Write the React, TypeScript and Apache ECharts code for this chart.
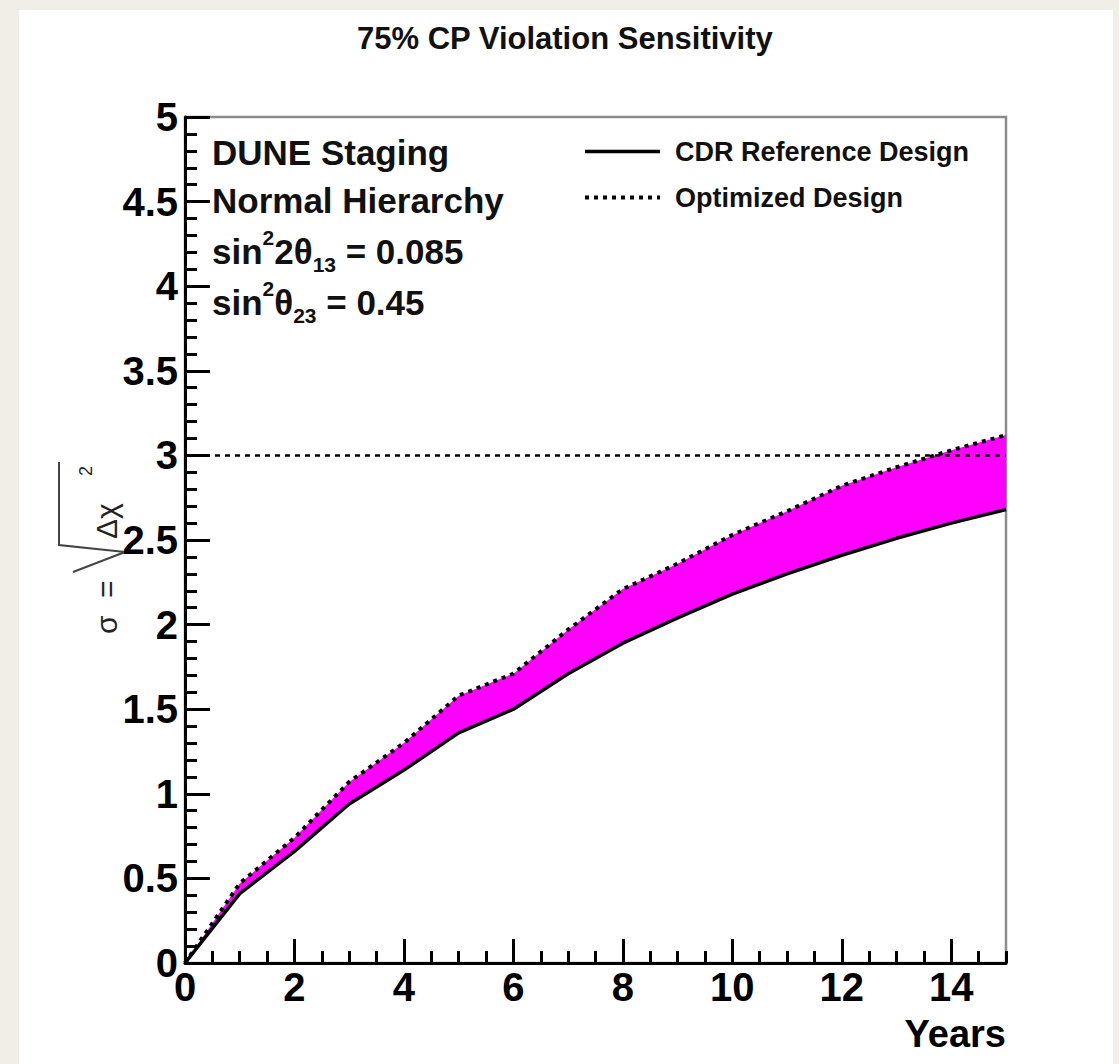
import React, { useEffect, useRef } from 'react';
import * as echarts from 'echarts';

// ---- data ----
const years = [0, 1, 2, 3, 4, 5, 6, 7, 8, 9, 10, 11, 12, 13, 14, 15];
const cdrSigma = [0, 0.41, 0.66, 0.94, 1.14, 1.36, 1.5, 1.71, 1.89, 2.04, 2.18, 2.3, 2.41, 2.51, 2.6, 2.68];
const optimizedSigma = [0, 0.47, 0.74, 1.07, 1.3, 1.58, 1.71, 1.97, 2.21, 2.36, 2.53, 2.67, 2.82, 2.93, 3.03, 3.12];
const threshold = 3;
const seriesNames = ['CDR Reference Design', 'Optimized Design'];
const chartTitle = '75% CP Violation Sensitivity';
const xAxisName = 'Years';
const xMajorTicks = [0, 2, 4, 6, 8, 10, 12, 14];
const xMinorTicks = [0.5, 1, 1.5, 2.5, 3, 3.5, 4.5, 5, 5.5, 6.5, 7, 7.5, 8.5, 9, 9.5, 10.5, 11, 11.5, 12.5, 13, 13.5, 14.5, 15];
const infoLines = ['DUNE Staging', 'Normal Hierarchy'];

const FONT = '"Liberation Sans", Arial, Helvetica, sans-serif';
const INK = '#111';

function buildOption() {
  const cdrPts = years.map((x, i) => [x, cdrSigma[i]]);
  const optPts = years.map((x, i) => [x, optimizedSigma[i]]);
  const tickLine = { color: '#000', width: 3 };

  return {
    animation: false,
    backgroundColor: 'transparent',
    textStyle: { fontFamily: FONT },
    title: {
      text: chartTitle,
      left: 352,
      top: 18,
      textStyle: { fontSize: 31, fontWeight: 'bold', color: INK, fontFamily: FONT },
    },
    grid: {
      left: 185,
      right: 113,
      top: 117,
      bottom: 101,
      show: true,
      backgroundColor: '#fff',
      borderColor: '#8c8c8c',
      borderWidth: 2.5,
    },
    legend: {
      orient: 'vertical',
      left: 583,
      top: 138,
      padding: 0,
      itemWidth: 75,
      itemHeight: 6,
      itemGap: 19,
      selectedMode: false,
      itemStyle: { opacity: 0 },
      textStyle: { fontSize: 27, fontWeight: 'bold', color: INK, fontFamily: FONT, padding: [0, 0, 0, 10] },
      data: [
        { name: seriesNames[0], lineStyle: { color: '#000', width: 3.5, type: 'solid' } },
        { name: seriesNames[1], lineStyle: { color: '#000', width: 4, type: [4, 5] } },
      ],
    },
    xAxis: [
      {
        type: 'value',
        min: 0,
        max: 15,
        position: 'bottom',
        z: 5,
        axisLine: { show: true, onZero: false, lineStyle: { color: '#000', width: 3 } },
        axisTick: { show: true, inside: true, length: 24, lineStyle: tickLine, customValues: xMajorTicks },
        axisLabel: {
          customValues: xMajorTicks,
          fontSize: 40,
          fontWeight: 'bold',
          color: '#000',
          margin: 4,
          fontFamily: FONT,
        },
        splitLine: { show: false },
        name: xAxisName,
        nameLocation: 'end',
        nameGap: 0,
        nameTextStyle: {
          fontSize: 38,
          fontWeight: 'bold',
          color: '#000',
          fontFamily: FONT,
          align: 'right',
          verticalAlign: 'top',
          padding: [52, 0, 0, 0],
        },
      },
      {
        type: 'value',
        min: 0,
        max: 15,
        position: 'bottom',
        z: 5,
        axisLine: { show: false },
        axisTick: { show: true, inside: true, length: 12, lineStyle: tickLine, customValues: xMinorTicks },
        axisLabel: { show: false },
        splitLine: { show: false },
      },
    ],
    yAxis: [
      {
        type: 'value',
        min: 0,
        max: 5,
        interval: 0.5,
        position: 'left',
        z: 5,
        axisLine: { show: true, onZero: false, lineStyle: { color: '#000', width: 3 } },
        axisTick: { show: true, inside: true, length: 25, lineStyle: tickLine },
        minorTick: { show: true, splitNumber: 5, length: 12, lineStyle: tickLine },
        axisLabel: { fontSize: 40, fontWeight: 'bold', color: '#000', margin: 7, fontFamily: FONT },
        splitLine: { show: false },
        minorSplitLine: { show: false },
      },
    ],
    series: [
      {
        name: 'band',
        type: 'custom',
        xAxisIndex: 0,
        yAxisIndex: 0,
        silent: true,
        z: 1,
        data: [[0, 0]],
        renderItem: (_params: any, api: any) => {
          const upper = years.map((x, i) => api.coord([x, optimizedSigma[i]]));
          const lower = years.map((x, i) => api.coord([x, cdrSigma[i]])).reverse();
          return {
            type: 'polygon',
            shape: { points: upper.concat(lower) },
            style: { fill: '#ff00ff', stroke: null },
          };
        },
      },
      {
        name: seriesNames[0],
        type: 'line',
        xAxisIndex: 0,
        yAxisIndex: 0,
        data: cdrPts,
        symbol: 'none',
        z: 3,
        lineStyle: { color: '#000', width: 3.5 },
      },
      {
        name: seriesNames[1],
        type: 'line',
        xAxisIndex: 0,
        yAxisIndex: 0,
        data: optPts,
        symbol: 'none',
        z: 3,
        lineStyle: { color: '#000', width: 4, type: [4, 5] },
        markLine: {
          silent: true,
          symbol: 'none',
          label: { show: false },
          lineStyle: { color: '#000', width: 2.5, type: [5, 5] },
          data: [{ yAxis: threshold }],
        },
      },
    ],
    graphic: [
      {
        type: 'text',
        x: 212,
        y: 152,
        z: 10,
        style: { text: infoLines[0], fontSize: 35, fontWeight: 'bold', fill: INK, fontFamily: FONT, verticalAlign: 'middle' },
      },
      {
        type: 'text',
        x: 212,
        y: 200,
        z: 10,
        style: { text: infoLines[1], fontSize: 35, fontWeight: 'bold', fill: INK, fontFamily: FONT, verticalAlign: 'middle' },
      },
      {
        type: 'text',
        x: 212,
        y: 251,
        z: 10,
        style: {
          text: '{m|sin}{sup|2}{m|2θ}{sub|13}{m| = 0.085}',
          verticalAlign: 'middle',
          rich: {
            m: { fontSize: 35, fontWeight: 'bold', fill: INK, fontFamily: FONT, lineHeight: 48, verticalAlign: 'middle' },
            sup: { fontSize: 21, fontWeight: 'bold', fill: INK, fontFamily: FONT, lineHeight: 20, verticalAlign: 'top' },
            sub: { fontSize: 21, fontWeight: 'bold', fill: INK, fontFamily: FONT, lineHeight: 20, verticalAlign: 'bottom' },
          },
        },
      },
      {
        type: 'text',
        x: 212,
        y: 302,
        z: 10,
        style: {
          text: '{m|sin}{sup|2}{m|θ}{sub|23}{m| = 0.45}',
          verticalAlign: 'middle',
          rich: {
            m: { fontSize: 35, fontWeight: 'bold', fill: INK, fontFamily: FONT, lineHeight: 48, verticalAlign: 'middle' },
            sup: { fontSize: 21, fontWeight: 'bold', fill: INK, fontFamily: FONT, lineHeight: 20, verticalAlign: 'top' },
            sub: { fontSize: 21, fontWeight: 'bold', fill: INK, fontFamily: FONT, lineHeight: 20, verticalAlign: 'bottom' },
          },
        },
      },
      {
        type: 'group',
        x: 121,
        y: 634,
        rotation: Math.PI / 2,
        z: 10,
        children: [
          { type: 'text', x: 0, y: 0, style: { text: 'σ', fontSize: 30, fill: '#222', fontFamily: FONT, verticalAlign: 'bottom' } },
          { type: 'text', x: 36, y: 0, style: { text: '=', fontSize: 30, fill: '#222', fontFamily: FONT, verticalAlign: 'bottom' } },
          {
            type: 'polyline',
            shape: { points: [[62, -48], [82, 4], [89, -62], [172, -62]] },
            style: { stroke: '#444', lineWidth: 2, fill: null },
          },
          { type: 'text', x: 95, y: 0, style: { text: 'Δχ', fontSize: 30, fill: '#222', fontFamily: FONT, verticalAlign: 'bottom' } },
          { type: 'text', x: 158, y: -26, style: { text: '2', fontSize: 18, fill: '#222', fontFamily: FONT, verticalAlign: 'bottom' } },
        ],
      },
    ],
  };
}

export default function App() {
  const ref = useRef<HTMLDivElement>(null);
  useEffect(() => {
    if (!ref.current) return;
    const chart = echarts.init(ref.current, null, { renderer: 'svg' });
    chart.setOption(buildOption() as any);
    return () => chart.dispose();
  }, []);
  return (
    <div style={{ position: 'absolute', left: 0, top: 0, width: 1119, height: 1064, background: '#f1eee8', overflow: 'hidden' }}>
      <div style={{ position: 'absolute', left: 19, top: 10, width: 1094, height: 1054, background: '#fff' }} />
      <div ref={ref} style={{ position: 'absolute', left: 0, top: 0, width: 1119, height: 1064 }} />
    </div>
  );
}
